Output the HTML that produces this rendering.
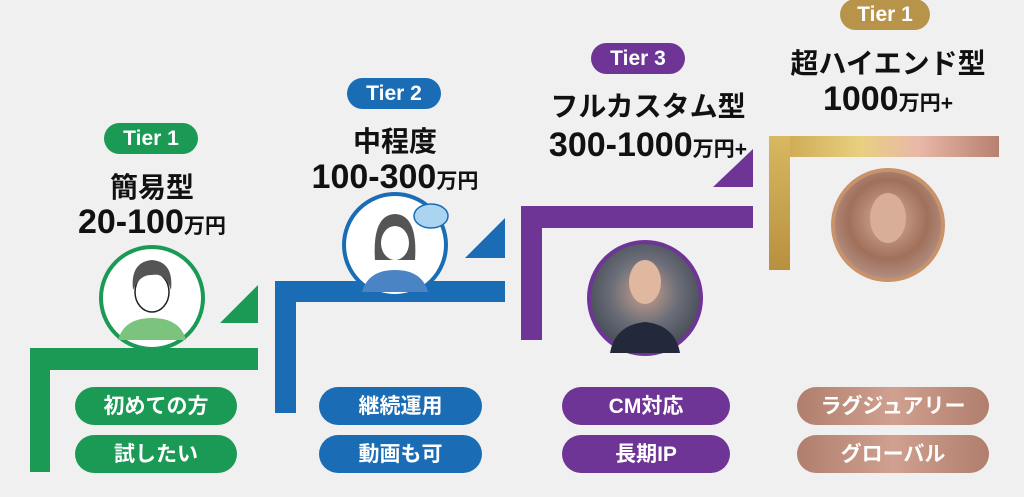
<!DOCTYPE html>
<html><head><meta charset="utf-8"><style>
body{margin:0;width:1024px;height:497px;background:#f0f0f0;overflow:hidden;position:relative;font-family:"Liberation Sans","Noto Sans CJK JP",sans-serif}
.a{position:absolute}
.pill{position:absolute;border-radius:20px;color:#fff;font-weight:bold;text-align:center;font-size:21px}
.tier{position:absolute;border-radius:16px;color:#fff;font-weight:600;text-align:center;font-size:21px;height:31px;line-height:31px}
.t{position:absolute;font-weight:bold;color:#111;text-align:center;white-space:nowrap}
.t small{font-size:0.62em}
</style></head><body>
<svg class="a" style="left:0;top:0" width="1024" height="497">
<defs>
<linearGradient id="gold" x1="0" x2="1"><stop offset="0" stop-color="#c9a24a"/><stop offset="0.4" stop-color="#e8d080"/><stop offset="0.65" stop-color="#e8b8a8"/><stop offset="1" stop-color="#b88070"/></linearGradient>
<linearGradient id="goldv" x1="0" x2="0" y1="0" y2="1"><stop offset="0" stop-color="#d8b860"/><stop offset="1" stop-color="#b89040"/></linearGradient>
<radialGradient id="p1" cx="0.5" cy="0.45" r="0.6"><stop offset="0" stop-color="#c9a08c"/><stop offset="0.5" stop-color="#6b6e78"/><stop offset="1" stop-color="#3e4450"/></radialGradient>
<radialGradient id="p2" cx="0.5" cy="0.45" r="0.6"><stop offset="0" stop-color="#d8b0a0"/><stop offset="0.6" stop-color="#a0705a"/><stop offset="1" stop-color="#b89890"/></radialGradient>
</defs>
<path d="M30 348H258V370H50V472H30Z" fill="#1a9a55"/>
<path d="M220 323L258 285V323Z" fill="#1a9a55"/>
<circle cx="152" cy="298" r="51" fill="#fff" stroke="#1a9a55" stroke-width="4"/>
<path d="M118 340Q124 318 152 318Q180 318 186 340Z" fill="#7cc47e"/>
<ellipse cx="152" cy="292" rx="17" ry="20" fill="#fff" stroke="#222" stroke-width="1.5"/>
<path d="M133 290Q130 262 152 260Q174 262 171 290Q165 272 152 275Q140 274 133 290Z" fill="#555"/>
<path d="M275 281H505V302H296V413H275Z" fill="#1a6db5"/>
<path d="M465 258L505 218V258Z" fill="#1a6db5"/>
<circle cx="395" cy="245" r="51" fill="#fff" stroke="#1a6db5" stroke-width="4"/>
<path d="M362 292Q368 270 395 270Q422 270 428 292Z" fill="#4a84c4"/>
<path d="M375 260Q372 215 395 214Q418 215 415 260Z" fill="#555"/>
<ellipse cx="395" cy="243" rx="14" ry="17" fill="#fff"/>
<ellipse cx="431" cy="216" rx="17" ry="12" fill="#aad4f0" stroke="#1a6db5" stroke-width="1.5"/>
<path d="M521 206H753V228H542V340H521Z" fill="#6e3596"/>
<path d="M713 187L753 149V187Z" fill="#6e3596"/>
<circle cx="645" cy="298" r="56" fill="url(#p1)" stroke="#6e3596" stroke-width="4"/>
<ellipse cx="645" cy="282" rx="16" ry="22" fill="#e0b8a0"/>
<path d="M610 353Q615 325 645 322Q675 325 680 353Z" fill="#23283a"/>
<path d="M769 136H999V157H790V270H769Z" fill="url(#gold)"/>
<rect x="769" y="136" width="21" height="134" fill="url(#goldv)"/>
<circle cx="888" cy="225" r="55" fill="url(#p2)" stroke="#c8926a" stroke-width="4"/>
<ellipse cx="888" cy="218" rx="18" ry="25" fill="#d8ae98"/>
</svg>
<div class="tier" style="left:104px;top:123px;width:94px;background:#1a9a55">Tier 1</div>
<div class="tier" style="left:347px;top:78px;width:94px;background:#1a6db5">Tier 2</div>
<div class="tier" style="left:591px;top:43px;width:94px;background:#6e3596">Tier 3</div>
<div class="tier" style="left:840px;top:-1px;width:90px;background:#b8944a">Tier 1</div>
<div class="t" style="left:52px;width:200px;top:166px;font-size:28px">簡易型</div>
<div class="t" style="left:52px;width:200px;top:203px;font-size:34px">20-100<small>万円</small></div>
<div class="t" style="left:295px;width:200px;top:120px;font-size:28px">中程度</div>
<div class="t" style="left:295px;width:200px;top:158px;font-size:34px">100-300<small>万円</small></div>
<div class="t" style="left:518px;width:260px;top:85px;font-size:28px">フルカスタム型</div>
<div class="t" style="left:518px;width:260px;top:126px;font-size:34px">300-1000<small>万円+</small></div>
<div class="t" style="left:758px;width:260px;top:42px;font-size:28px">超ハイエンド型</div>
<div class="t" style="left:758px;width:260px;top:80px;font-size:34px">1000<small>万円+</small></div>
<div class="pill" style="left:75px;top:387px;width:162px;height:38px;line-height:40px;background:#1a9a55">初めての方</div>
<div class="pill" style="left:75px;top:435px;width:162px;height:38px;line-height:40px;background:#1a9a55">試したい</div>
<div class="pill" style="left:319px;top:387px;width:163px;height:38px;line-height:40px;background:#1a6db5">継続運用</div>
<div class="pill" style="left:319px;top:435px;width:163px;height:38px;line-height:40px;background:#1a6db5">動画も可</div>
<div class="pill" style="left:562px;top:387px;width:168px;height:38px;line-height:40px;background:#6e3596">CM対応</div>
<div class="pill" style="left:562px;top:435px;width:168px;height:38px;line-height:40px;background:#6e3596">長期IP</div>
<div class="pill" style="left:797px;top:387px;width:192px;height:38px;line-height:40px;background:linear-gradient(90deg,#b07e6c,#d0a090,#b07e6c)">ラグジュアリー</div>
<div class="pill" style="left:797px;top:435px;width:192px;height:38px;line-height:40px;background:linear-gradient(90deg,#b07e6c,#d0a090,#b07e6c)">グローバル</div>
</body></html>
